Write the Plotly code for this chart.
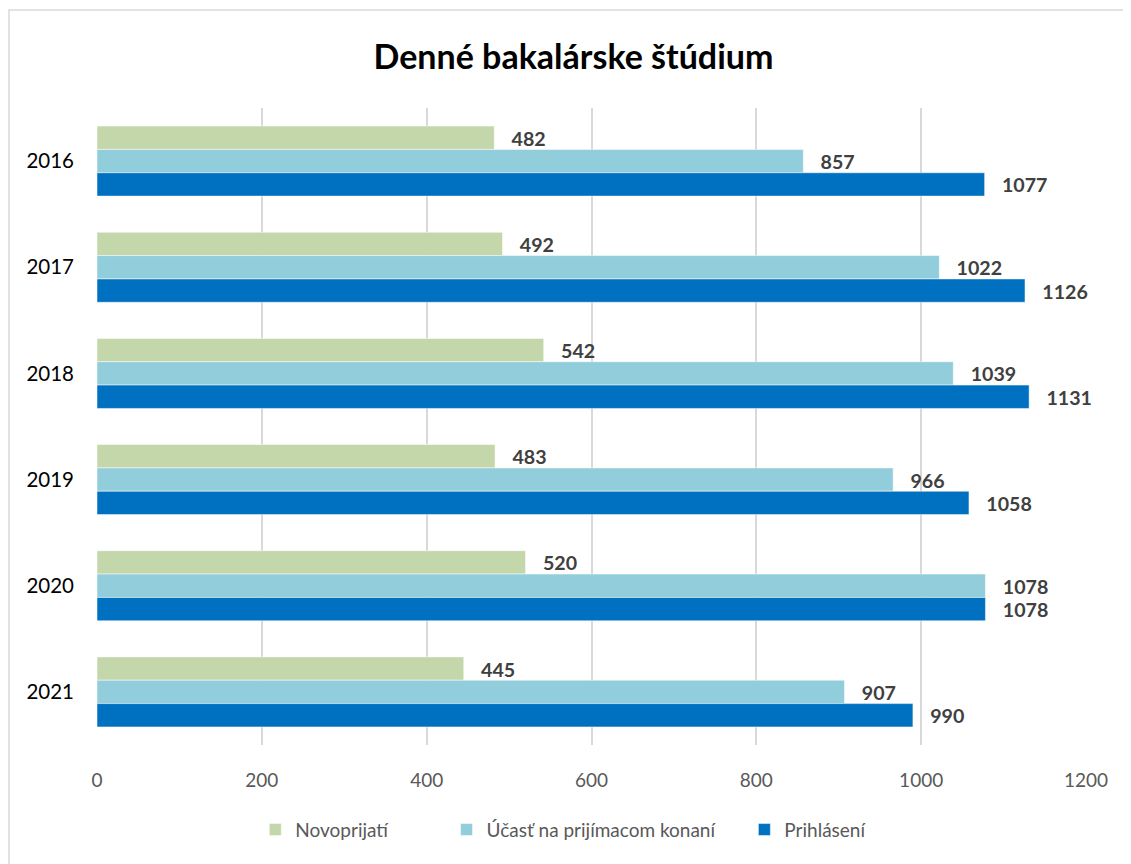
import plotly.graph_objects as go

years = ["2016", "2017", "2018", "2019", "2020", "2021"]
novoprijati = [482, 492, 542, 483, 520, 445]
ucast = [857, 1022, 1039, 966, 1078, 907]
prihlaseni = [1077, 1126, 1131, 1058, 1078, 990]

series = [
    ("Novoprijatí" + "\u00a0" * 11, novoprijati, "#C4D7AB"),
    ("Účasť na prijímacom konaní" + "\u00a0" * 5, ucast, "#92CDDC"),
    ("Prihlásení", prihlaseni, "#0070C0"),
]

fig = go.Figure()
for name, vals, color in series:
    fig.add_trace(go.Bar(
        y=years, x=vals, name=name, orientation="h",
        marker=dict(color=color, line=dict(color="white", width=0.5)),
        text=vals, texttemplate="   %{x}", textposition="outside",
        textfont=dict(family="Lato", size=21, color="#404040", weight="bold"),
        cliponaxis=False,
    ))

fig.update_layout(
    width=1131, height=864,
    paper_bgcolor="white", plot_bgcolor="white",
    margin=dict(l=89, r=53, t=100, b=127, autoexpand=False),
    barmode="group", bargap=0.34, bargroupgap=0,
    title=dict(text="<b>Denné bakalárske štúdium</b>", x=0.5, xanchor="center",
               y=0.943, yanchor="middle",
               font=dict(family="Lato", size=34, color="black")),
    font=dict(family="Lato"),
    showlegend=True,
    legend=dict(orientation="h", x=0.472, xanchor="center",
                y=-0.133, yanchor="middle",
                font=dict(family="Lato", size=19, color="#595959"),
                traceorder="normal"),
    xaxis=dict(range=[0, 1200], dtick=200, showgrid=True, gridcolor="#D9D9D9",
               gridwidth=2, zeroline=False, showline=False,
               tickfont=dict(family="Lato", size=19, color="#595959"),
               ticks="", ticklabelstandoff=22),
    yaxis=dict(autorange="reversed", showgrid=False, showline=False, ticks="",
               tickfont=dict(family="Lato", size=20.5, color="black"),
               ticklabelstandoff=22),
    shapes=[dict(type="rect", xref="paper", yref="paper",
                 x0=-0.089, x1=1.2, y0=-0.3, y1=1.154,
                 line=dict(color="#D9D9D9", width=1.5), layer="below")],
)

fig.write_html("out.html")
